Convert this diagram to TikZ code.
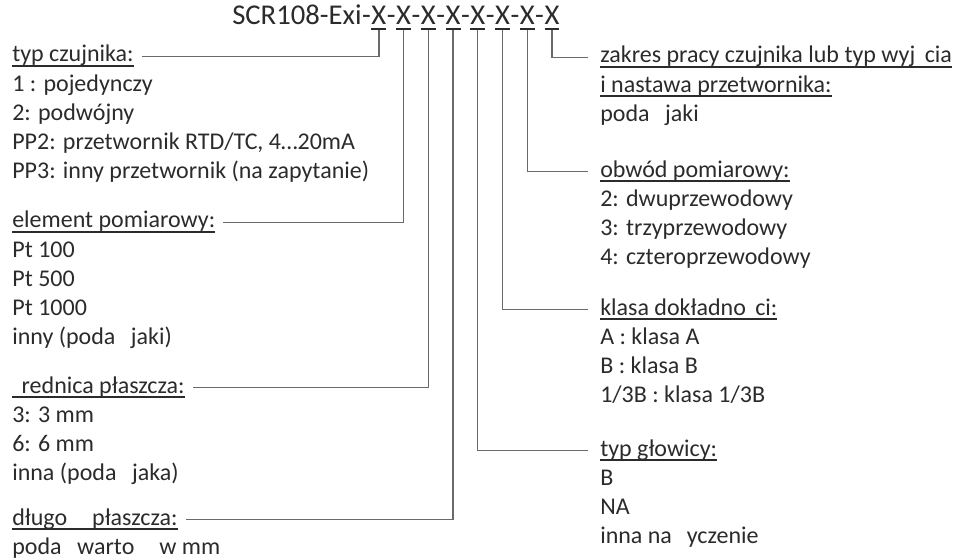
\documentclass[tikz,border=0pt]{standalone}
\usepackage{fontspec}
\setmainfont{Carlito}
\usepackage{tikz}
\usetikzlibrary{positioning}

\definecolor{ink}{HTML}{2B2B2B}
\definecolor{wire}{HTML}{6A6A6A}

% heavier underline, and a gap where the font had no glyph
\newcommand{\ulbox}[1]{\leavevmode\setbox0=\hbox{#1}\rlap{\rule[-3.6pt]{\wd0}{1.4pt}}\box0}
\newcommand{\gap}[1]{\hphantom{#1}}

\begin{document}
\begin{tikzpicture}[x=0.75pt, y=-0.75pt,
    txt/.style={inner sep=0pt, text=ink, font=\fontsize{18}{21.4}\selectfont,
      text height=15pt, text depth=6.4pt, anchor=base west},
    hdr/.style={txt},
    row/.style={txt, below=0pt of #1.south west, anchor=north west},
    code/.style={inner sep=0pt, text=ink, font=\fontsize{21.5}{26}\selectfont, anchor=base west},
    conn/.style={draw=wire, line width=0.9pt}]
  \useasboundingbox (0,0) rectangle (965,560);

  % order code, one node per X
  \node[code] (x0) at (232,25) {SCR108-Exi};
  \foreach \i [remember=\i as \j (initially 0)] in {1,...,8}{
    \node[code] (d\i) at (x\j.base east) {-};
    \node[code] (x\i) at (d\i.base east) {\ulbox{X}};
  }

  % left: typ czujnika
  \node[hdr] (typ0) at (12,62) {\ulbox{typ czujnika:}};
  \foreach \t [count=\k, remember=\k as \j (initially 0)] in
      {1 : pojedynczy, 2: podwójny, {PP2: przetwornik RTD/TC, 4…20mA},
       PP3: inny przetwornik (na zapytanie)}
    \node[row=typ\j] (typ\k) {\t};

  % left: element pomiarowy
  \node[hdr] (elem0) at (12,228) {\ulbox{element pomiarowy:}};
  \foreach \t [count=\k, remember=\k as \j (initially 0)] in
      {Pt 100, Pt 500, Pt 1000, inny (poda\gap{ć} jaki)}
    \node[row=elem\j] (elem\k) {\t};

  % left: srednica
  \node[hdr] (sred0) at (12,393) {\ulbox{\gap{ś}rednica płaszcza:}};
  \foreach \t [count=\k, remember=\k as \j (initially 0)] in
      {3: 3 mm, 6: 6 mm, inna (poda\gap{ć} jaka)}
    \node[row=sred\j] (sred\k) {\t};

  % left: dlugosc
  \node[hdr] (dlug0) at (12,525) {\ulbox{długo\gap{ść} płaszcza:}};
  \node[row=dlug0] (dlug1) {poda\gap{ć} warto\gap{ść} w mm};

  % right: zakres pracy
  \node[hdr] (zak0) at (600,63) {\ulbox{zakres pracy czujnika lub typ wyj\gap{ś}cia}};
  \node[row=zak0] (zak1) {\ulbox{i nastawa przetwornika:}};
  \node[row=zak1] (zak2) {poda\gap{ć} jaki};

  % right: obwod pomiarowy
  \node[hdr] (obw0) at (600,177) {\ulbox{obwód pomiarowy:}};
  \foreach \t [count=\k, remember=\k as \j (initially 0)] in
      {2: dwuprzewodowy, 3: trzyprzewodowy, 4: czteroprzewodowy}
    \node[row=obw\j] (obw\k) {\t};

  % right: klasa
  \node[hdr] (kl0) at (600,315) {\ulbox{klasa dokładno\gap{ś}ci:}};
  \foreach \t [count=\k, remember=\k as \j (initially 0)] in
      {A : klasa A, B : klasa B, {1/3B : klasa 1/3B}}
    \node[row=kl\j] (kl\k) {\t};

  % right: glowica
  \node[hdr] (glow0) at (600,456) {\ulbox{typ głowicy:}};
  \foreach \t [count=\k, remember=\k as \j (initially 0)] in
      {B, NA, inna na \gap{ż}yczenie}
    \node[row=glow\j] (glow\k) {\t};

  % branches from the X's
  \foreach \i/\n in {1/typ0, 2/elem0, 3/sred0, 4/dlug0}
    \draw[conn] (x\i.south) |- ([xshift=6pt, yshift=4pt]\n.base east);
  \foreach \i/\n in {5/glow0, 6/kl0, 7/obw0, 8/zak0}
    \draw[conn] (x\i.south) |- ([xshift=-9pt, yshift=4pt]\n.base west);
\end{tikzpicture}
\end{document}
